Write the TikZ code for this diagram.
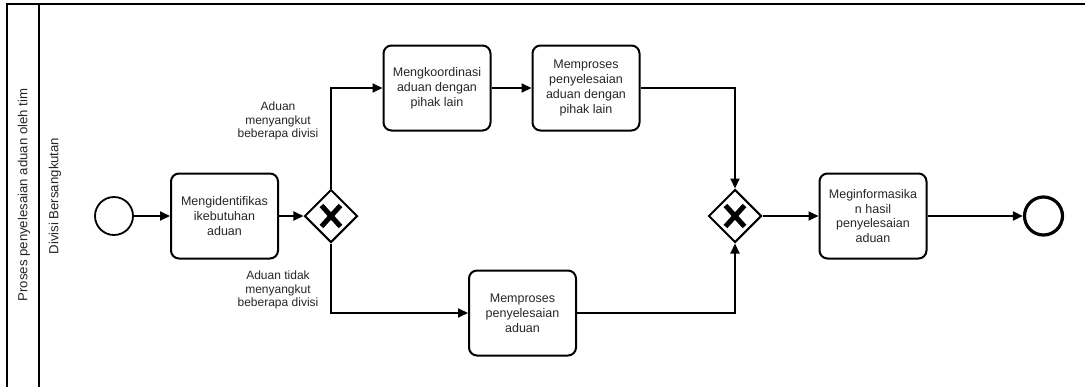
\documentclass[tikz,border=0pt]{standalone}
\usepackage{fontspec}
\setmainfont{Liberation Sans}
\usetikzlibrary{shapes.geometric,arrows.meta}

\tikzset{
  flow/.style={line width=2pt, -{Triangle[length=10pt,width=9pt]}},
  task/.style={draw, line width=2pt, rounded corners=8pt, minimum width=107pt,
    minimum height=85pt, align=center, inner sep=2pt, text=black!85,
    font=\fontsize{12.5pt}{14.8pt}\selectfont},
  gateway/.style={draw, diamond, line width=2pt, minimum width=53pt,
    minimum height=53pt, inner sep=0pt, aspect=1},
  startev/.style={draw, circle, line width=1.8pt, minimum size=38pt, inner sep=0pt},
  endev/.style={draw, circle, line width=3.2pt, minimum size=38pt, inner sep=0pt},
  cond/.style={align=center, text=black!85, font=\fontsize{12pt}{13.8pt}\selectfont},
  lanetext/.style={rotate=90, text=black!85, font=\fontsize{13.2pt}{15pt}\selectfont},
  poolline/.style={line width=2.2pt},
  xmark/.style={line width=5pt}
}

\begin{document}
\begin{tikzpicture}[x=1pt,y=-1pt]
  \useasboundingbox (0,0) rectangle (1085,386);

  % pool and lane borders
  \draw[poolline] (7,395) -- (7,4) -- (1095,4);
  \draw[poolline] (39,4) -- (39,395);
  \node[lanetext] (pool) at (24,195) {Proses penyelesaian aduan oleh tim};
  \node[lanetext] (lane) at (55,196) {Divisi Bersangkutan};

  % events, tasks and gateways
  \node[startev] (start) at (114,216) {};
  \node[task] (t1) at (224.5,216) {Mengidentifikas\\ikebutuhan\\aduan};
  \node[gateway] (g1) at (331,216) {};
  \node[task] (t2) at (437,88) {Mengkoordinasi\\aduan dengan\\pihak lain};
  \node[task] (t3) at (586,88) {Memproses\\penyelesaian\\aduan dengan\\pihak lain};
  \node[task] (t4) at (522.5,313) {Memproses\\penyelesaian\\aduan};
  \node[gateway] (g2) at (735,216) {};
  \node[task] (t5) at (873,216) {Meginformasika\\n hasil\\penyelesaian\\aduan};
  \node[endev] (end) at (1043.5,216) {};

  % exclusive gateway markers
  \foreach \g in {g1,g2} {
    \draw[xmark] ([shift={(-9.5,-10.5)}]\g.center) -- ([shift={(9.5,10.5)}]\g.center);
    \draw[xmark] ([shift={(9.5,-10.5)}]\g.center) -- ([shift={(-9.5,10.5)}]\g.center);
  }

  % sequence flows
  \draw[flow] (start) -- (t1);
  \draw[flow] (t1) -- (g1);
  \draw[flow] (g1.north) |- (t2.west);
  \draw[flow] (g1.south) |- (t4.west);
  \draw[flow] (t2) -- (t3);
  \draw[flow] (t3.east) -| (g2.north);
  \draw[flow] (t4.east) -| (g2.south);
  \draw[flow] (g2) -- (t5);
  \draw[flow] (t5) -- (end);

  % condition labels
  \node[cond] (c1) at (278,121) {Aduan\\menyangkut\\beberapa divisi};
  \node[cond] (c2) at (278,290) {Aduan tidak\\menyangkut\\beberapa divisi};
\end{tikzpicture}
\end{document}
